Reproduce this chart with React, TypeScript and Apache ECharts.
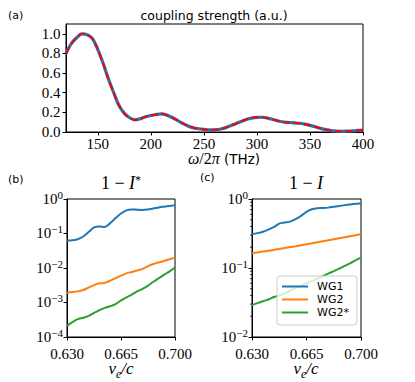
import React, { useEffect, useRef } from "react";
import * as echarts from "echarts";

// ---------- data ----------
const freqTHz = [
  120, 125, 130, 135, 140, 145, 150, 155, 160, 165, 170, 175, 180, 185, 190, 195, 200, 205, 210, 215,
  220, 225, 230, 235, 240, 245, 250, 255, 260, 265, 270, 275, 280, 285, 290, 295, 300, 305, 310, 315,
  320, 325, 330, 335, 340, 345, 350, 355, 360, 365, 370, 375, 380, 385, 390, 395, 400,
];
const couplingSim = [
  0.8, 0.9, 0.96, 1.0, 0.99, 0.95, 0.84, 0.7, 0.54, 0.4, 0.27, 0.19, 0.145, 0.123, 0.135, 0.155, 0.168,
  0.178, 0.185, 0.172, 0.148, 0.118, 0.088, 0.062, 0.043, 0.033, 0.026, 0.021, 0.022, 0.028, 0.042,
  0.063, 0.085, 0.108, 0.128, 0.142, 0.149, 0.15, 0.142, 0.128, 0.112, 0.102, 0.097, 0.093, 0.089,
  0.08, 0.068, 0.053, 0.037, 0.024, 0.014, 0.009, 0.007, 0.008, 0.011, 0.016, 0.02,
];
const couplingFit = couplingSim;

const velocity = [
  0.63, 0.6335, 0.637, 0.6405, 0.644, 0.6475, 0.651, 0.6545, 0.658, 0.6615, 0.665, 0.6685, 0.672,
  0.6755, 0.679, 0.6825, 0.686, 0.6895, 0.693, 0.6965, 0.7,
];
// panel (b): 1 - I*
const wg1Star = [
  0.063, 0.064, 0.068, 0.082, 0.11, 0.15, 0.16, 0.155, 0.2, 0.28, 0.38, 0.47, 0.5, 0.49, 0.48, 0.5,
  0.53, 0.57, 0.6, 0.63, 0.66,
];
const wg2Star = [
  0.00193, 0.002, 0.0021, 0.0023, 0.0027, 0.0032, 0.0036, 0.0037, 0.0043, 0.0051, 0.006, 0.007,
  0.0077, 0.0085, 0.0094, 0.0113, 0.013, 0.0145, 0.016, 0.018, 0.02,
];
const wg2sStar = [
  0.00021, 0.00027, 0.00033, 0.00036, 0.00041, 0.0005, 0.0006, 0.0007, 0.00078, 0.0009, 0.00115,
  0.0014, 0.0017, 0.0021, 0.0025, 0.0031, 0.004, 0.0051, 0.0064, 0.008, 0.0103,
];
// panel (c): 1 - I
const wg1 = [
  0.31, 0.32, 0.335, 0.36, 0.39, 0.44, 0.455, 0.47, 0.51, 0.57, 0.65, 0.71, 0.735, 0.74, 0.75, 0.77,
  0.79, 0.815, 0.835, 0.85, 0.865,
];
const wg2 = [
  0.163, 0.168, 0.173, 0.178, 0.183, 0.189, 0.195, 0.201, 0.207, 0.214, 0.221, 0.228, 0.236, 0.244,
  0.252, 0.261, 0.27, 0.279, 0.289, 0.299, 0.31,
];
const wg2s = [
  0.029, 0.031, 0.033, 0.035, 0.038, 0.04, 0.043, 0.047, 0.051, 0.055, 0.06, 0.065, 0.07, 0.076,
  0.083, 0.09, 0.098, 0.107, 0.117, 0.129, 0.141,
];

const freqTicks = [150, 200, 250, 300, 350, 400];
const couplingTicks = [0, 0.2, 0.4, 0.6, 0.8, 1.0];
const velocityTicks = [0.63, 0.665, 0.7];
const minorMantissas = [2, 3, 4, 5, 6, 7, 8, 9];
const minorDecadesC = [0.01, 0.1];
const seriesNames = ["WG1", "WG2", "WG2*"];

// ---------- styles ----------
const SERIF = "Liberation Serif";
const SANS = "DejaVu Sans";
const BLUE = "#1f77b4";
const ORANGE = "#ff7f0e";
const GREEN = "#2ca02c";

const pair = (xs: number[], ys: number[]) => xs.map((x, i) => [x, ys[i]]);

const axisCommon = {
  axisLine: { show: true, onZero: false, lineStyle: { color: "#000", width: 1 } },
  axisTick: { show: true, inside: false, length: 3.5, lineStyle: { color: "#000", width: 1 } },
  splitLine: { show: false },
};

const tickFont = { fontFamily: SERIF, fontSize: 15, lineHeight: 14, color: "#000" };

const logLabel = {
  ...tickFont,
  margin: 4,
  formatter: (v: number) => {
    const e = Math.round(Math.log10(v));
    return `{b|10}{s|${e < 0 ? "\u2212" + -e : e}}`;
  },
  rich: {
    b: { fontFamily: SERIF, fontSize: 15, lineHeight: 14, color: "#000", verticalAlign: "bottom" },
    s: { fontFamily: SERIF, fontSize: 11, lineHeight: 11, color: "#000", verticalAlign: "bottom", padding: [0, 0, 6, 0] },
  },
};

function lineSeries(name: string, color: string, data: number[][], xi: number, extra: any = {}) {
  return {
    type: "line",
    name,
    xAxisIndex: xi,
    yAxisIndex: xi,
    data,
    showSymbol: false,
    symbol: "none",
    smooth: 0.3,
    lineStyle: { color, width: 2 },
    itemStyle: { color },
    ...extra,
  };
}

export default function App() {
  const ref = useRef<HTMLDivElement>(null);

  useEffect(() => {
    if (!ref.current) return;
    const chart = echarts.init(ref.current, undefined, { renderer: "svg" });

    chart.setOption({
      animation: false,
      backgroundColor: "#fff",
      grid: [
        { left: 66, top: 24, width: 297, height: 108, show: true, borderColor: "#000", borderWidth: 1, containLabel: false },
        { left: 67, top: 199, width: 108, height: 138, show: true, borderColor: "#000", borderWidth: 1, containLabel: false },
        { left: 252, top: 199, width: 109, height: 138, show: true, borderColor: "#000", borderWidth: 1, containLabel: false },
      ],
      xAxis: [
        {
          type: "value", gridIndex: 0, min: 120, max: 400, ...axisCommon,
          axisTick: { ...axisCommon.axisTick, customValues: freqTicks },
          axisLabel: { ...tickFont, margin: 5, customValues: freqTicks, formatter: (v: number) => String(v) },
        },
        {
          type: "value", gridIndex: 1, min: 0.63, max: 0.7, ...axisCommon,
          axisTick: { ...axisCommon.axisTick, customValues: velocityTicks },
          axisLabel: { ...tickFont, margin: 10, customValues: velocityTicks, formatter: (v: number) => v.toFixed(3) },
        },
        {
          type: "value", gridIndex: 2, min: 0.63, max: 0.7, ...axisCommon,
          axisTick: { ...axisCommon.axisTick, customValues: velocityTicks },
          axisLabel: { ...tickFont, margin: 10, customValues: velocityTicks, formatter: (v: number) => v.toFixed(3) },
        },
      ],
      yAxis: [
        {
          type: "value", gridIndex: 0, min: 0, max: 1.1, ...axisCommon,
          axisTick: { ...axisCommon.axisTick, customValues: couplingTicks },
          axisLabel: { ...tickFont, margin: 5.5, customValues: couplingTicks, formatter: (v: number) => v.toFixed(1) },
        },
        { type: "log", logBase: 10, gridIndex: 1, min: 1e-4, max: 1, ...axisCommon, axisLabel: logLabel },
        { type: "log", logBase: 10, gridIndex: 2, min: 1e-2, max: 1, ...axisCommon, axisLabel: logLabel },
      ],
      legend: {
        show: true,
        data: seriesNames.map((n) => ({ name: n })),
        orient: "vertical",
        left: 277,
        top: 276,
        icon: "rect",
        itemWidth: 26,
        itemHeight: 2,
        itemGap: 2,
        padding: [5, 8, 7, 5],
        backgroundColor: "rgba(255,255,255,0.8)",
        borderColor: "#cccccc",
        borderWidth: 1,
        borderRadius: 3,
        selectedMode: false,
        textStyle: { fontFamily: SANS, fontSize: 11, color: "#000", padding: [0, 0, 0, 4] },
      },
      series: [
        lineSeries("sim", BLUE, pair(freqTHz, couplingSim), 0, { lineStyle: { color: BLUE, width: 3.2 } }),
        lineSeries("fit", "#ff0000", pair(freqTHz, couplingFit), 0, {
          lineStyle: { color: "#ff0000", width: 2, type: [7.4, 3.2] },
        }),
        lineSeries("WG1*", BLUE, pair(velocity, wg1Star), 1),
        lineSeries("WG2s*", ORANGE, pair(velocity, wg2Star), 1),
        lineSeries("WG2**", GREEN, pair(velocity, wg2sStar), 1),
        lineSeries("WG1", BLUE, pair(velocity, wg1), 2),
        lineSeries("WG2", ORANGE, pair(velocity, wg2), 2),
        lineSeries("WG2*", GREEN, pair(velocity, wg2s), 2),
      ],
    });

    // minor ticks on the log axis of panel (c), positioned through the library's scale
    const minorTicks: any[] = [];
    minorDecadesC.forEach((d) => {
      minorMantissas.forEach((m) => {
        const p = chart.convertToPixel({ gridIndex: 2 } as any, [0.63, m * d]) as number[];
        if (p) {
          minorTicks.push({
            type: "line",
            shape: { x1: p[0] - 2, y1: p[1], x2: p[0], y2: p[1] },
            style: { stroke: "#000", lineWidth: 0.8 },
            silent: true,
          });
        }
      });
    });

    const txt = (text: string, x: number, y: number, extra: any = {}) => ({
      type: "text",
      silent: true,
      style: { text, x, y, align: "center", verticalAlign: "middle", fill: "#000", ...extra },
    });

    const titleRich = {
      n: { fontFamily: SERIF, fontSize: 18, fill: "#000", verticalAlign: "bottom" },
      i: { fontFamily: SERIF, fontStyle: "italic", fontSize: 18, fill: "#000", verticalAlign: "bottom" },
      s: { fontFamily: SERIF, fontSize: 12, fill: "#000", verticalAlign: "bottom", padding: [0, 0, 6, 0] },
    };
    const veRich = {
      i: { fontFamily: SERIF, fontStyle: "italic", fontSize: 17, lineHeight: 15, fill: "#000", verticalAlign: "bottom", padding: [0, 0, 3, 0] },
      sub: { fontFamily: SERIF, fontStyle: "italic", fontSize: 12, lineHeight: 12, fill: "#000", verticalAlign: "bottom" },
    };
    const omegaRich = {
      i: { fontFamily: SERIF, fontStyle: "italic", fontSize: 16, lineHeight: 15, fill: "#000" },
      n: { fontFamily: SERIF, fontSize: 16, lineHeight: 15, fill: "#000" },
      t: { fontFamily: SANS, fontSize: 13.5, lineHeight: 15, fill: "#000" },
    };

    chart.setOption({
      graphic: {
        elements: [
          txt("(a)", 8, 15.5, { align: "left", fontFamily: SANS, fontSize: 11 }),
          txt("coupling strength (a.u.)", 214, 15, { fontFamily: SANS, fontSize: 12.5 }),
          txt("{i|ω}{n|/2}{i|π}{t| (THz)}", 224, 158.5, { rich: omegaRich }),
          txt("(b)", 8, 179, { align: "left", fontFamily: SANS, fontSize: 11 }),
          txt("(c)", 200, 177.5, { align: "left", fontFamily: SANS, fontSize: 11 }),
          txt("{n|1 \u2212 }{i|I}{s|*}", 121, 183, { rich: titleRich }),
          txt("{n|1 \u2212 }{i|I}", 306, 183, { rich: titleRich }),
          txt("{i|v}{sub|e}{i|/c}", 121, 372, { rich: veRich }),
          txt("{i|v}{sub|e}{i|/c}", 306, 372, { rich: veRich }),
          ...minorTicks,
        ],
      },
    });

    return () => chart.dispose();
  }, []);

  return (
    <div
      ref={ref}
      style={{ position: "absolute", left: 0, top: 0, width: 415, height: 382, background: "#fff" }}
    />
  );
}
